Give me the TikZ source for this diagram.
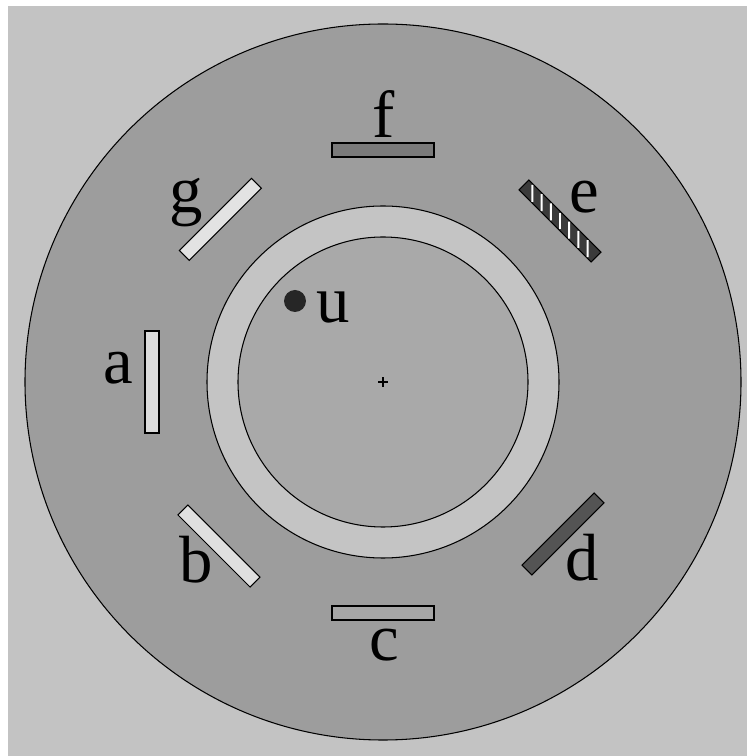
\documentclass[tikz,border=0pt]{standalone}
\usepackage{fontspec}
\setmainfont{Liberation Serif}
\newfontfamily\lblfont{Liberation Serif}
\usepackage{tikz}
\usetikzlibrary{positioning}
\definecolor{bggray}{HTML}{C3C3C3}
\definecolor{discgray}{HTML}{9D9D9D}
\definecolor{ringgray}{HTML}{C4C4C4}
\definecolor{coregray}{HTML}{A9A9A9}

\begin{document}
\begin{tikzpicture}[
  x=0.02cm,y=0.02cm,
  plate/.style={draw,line width=0.6pt,minimum width=2.04cm,minimum height=0.28cm,inner sep=0pt},
  lbl/.style={font=\lblfont\fontsize{38}{40}\selectfont,inner sep=0pt}
]
% frame
\fill[white] (-383,-374) rectangle (364,382);
\fill[bggray] (-375,-374) rectangle (364,376);
\draw[fill=discgray,line width=0.6pt] (0,0) circle (358);
\draw[fill=ringgray,line width=0.6pt] (0,0) circle (176);
\draw[fill=coregray,line width=0.6pt] (0,0) circle (145);
\draw[line width=0.6pt] (-5,0) -- (5,0) (0,-5) -- (0,5);

% plates round the ring
\node[plate,fill=white!86!black,rotate=90] (a) at (180:231) {};
\node[plate,fill=white!88!black,rotate=-45] (b) at (225:232) {};
\node[plate,fill=white!65!black,rotate=0] (c) at (270:231) {};
\node[plate,fill=black!67,rotate=45] (d) at (180,-152) {};
\node[plate,fill=black!77,rotate=-45] (e) at (177,161) {};
\node[plate,fill=black!52,rotate=0] (f) at (90:232) {};
\node[plate,fill=white!89!black,rotate=45] (g) at (135:230) {};
\begin{scope}[shift={(e.center)},rotate=-45]
  \foreach \t in {-39,-26,...,40}
    \draw[white,line width=1.1pt] (\t+6,-6) -- (\t-6,6);
\end{scope}

% labels
\node[lbl] (la) at (-265,14) {a};
\node[lbl] (lb) at (-187,-178) {b};
\node[lbl] (lc) at (1,-263) {c};
\node[lbl] (ld) at (199,-176) {d};
\node[lbl] (le) at (201,185) {e};
\node[lbl] (lf) at (1,268) {f};
\node[lbl] (lg) at (-197,179) {g};

\node[circle,fill=black!85,minimum size=0.44cm,inner sep=0pt] (u) at (-88,81) {};
\node[lbl,right=0.2cm of u,yshift=-0.14cm] (lu) {u};
\end{tikzpicture}
\end{document}
